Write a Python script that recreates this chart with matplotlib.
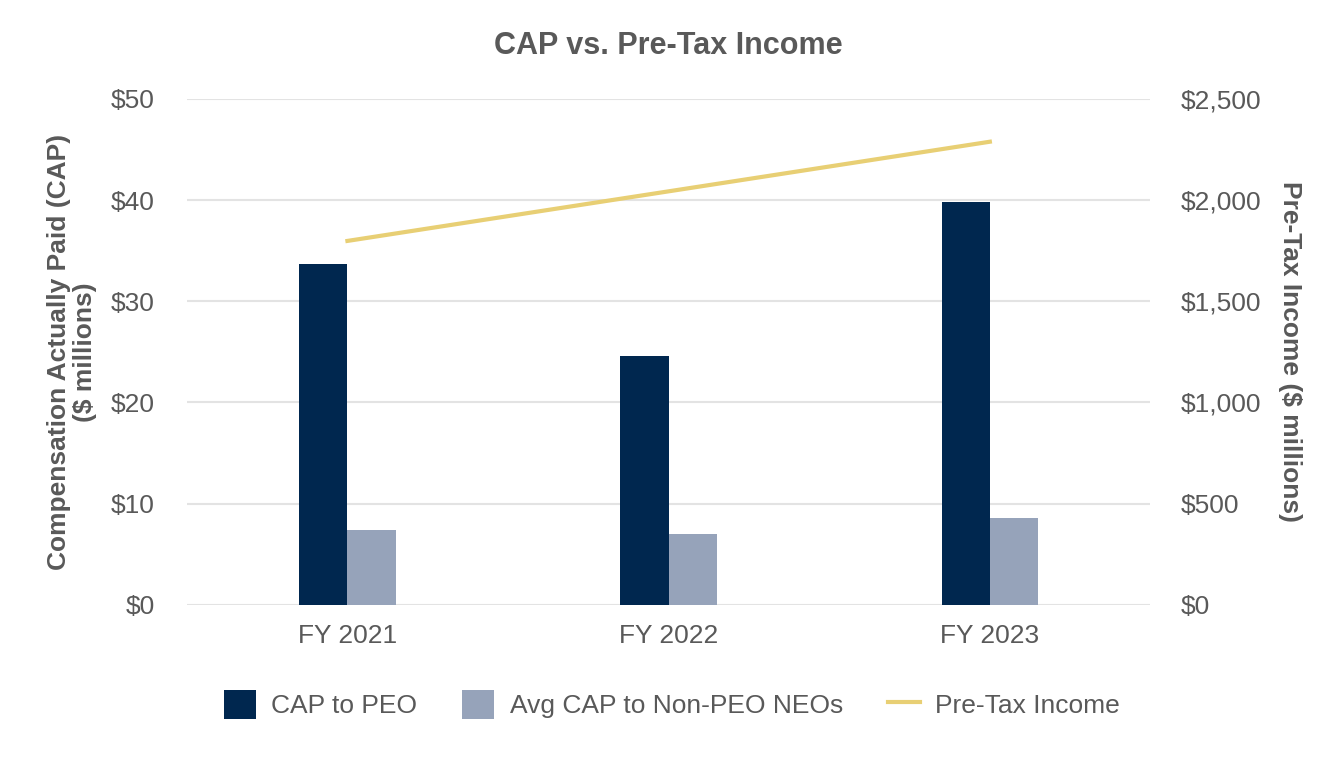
import numpy as np
import matplotlib.pyplot as plt
from matplotlib.ticker import FuncFormatter

years = ["FY 2021", "FY 2022", "FY 2023"]
cap_peo = [33.7, 24.6, 39.8]
cap_non_peo = [7.4, 7.0, 8.6]
pretax_income = [1798, 2043, 2288]

navy = "#00274F"
slate = "#96A3BA"
gold = "#E8CF74"
grey = "#595959"

plt.rcParams["font.family"] = ["Liberation Sans", "DejaVu Sans"]

fig = plt.figure(figsize=(13.44, 7.6), dpi=100)
ax = fig.add_axes([0.139, 0.204, 0.717, 0.666])
x = np.arange(len(years))
w = 0.15

ax.bar(x - w / 2, cap_peo, w, color=navy, label="CAP to PEO", zorder=3)
ax.bar(x + w / 2, cap_non_peo, w, color=slate, label="Avg CAP to Non-PEO NEOs", zorder=3)
ax.set_ylim(0, 50)
ax.set_xlim(-0.5, 2.5)
ax.set_yticks(range(0, 51, 10))
ax.yaxis.set_major_formatter(FuncFormatter(lambda v, p: f"${v:,.0f}"))
ax.set_xticks(x)
ax.set_xticklabels(years)
ax.grid(axis="y", color="#E3E3E3", linewidth=1.5, zorder=0)
for s in ax.spines.values():
    s.set_visible(False)
ax.tick_params(length=0, labelsize=19, colors=grey)
ax.tick_params(axis="y", pad=23)
ax.tick_params(axis="x", pad=14)
ax.set_ylabel("Compensation Actually Paid (CAP)\n($ millions)", fontsize=19,
              fontweight="bold", color=grey, labelpad=10, linespacing=1.1)

ax2 = ax.twinx()
ax2.plot(x, pretax_income, color=gold, linewidth=3, label="Pre-Tax Income", zorder=4)
ax2.set_ylim(0, 2500)
ax2.set_yticks(range(0, 2501, 500))
ax2.yaxis.set_major_formatter(FuncFormatter(lambda v, p: f"${v:,.0f}"))
for s in ax2.spines.values():
    s.set_visible(False)
ax2.tick_params(length=0, labelsize=19, colors=grey, pad=22)
ax2.set_ylabel("Pre-Tax Income ($ millions)", fontsize=19, fontweight="bold",
               color=grey, rotation=270, labelpad=29)

ax.set_title("CAP vs. Pre-Tax Income", fontsize=22, fontweight="bold", color=grey, pad=32)

h1, l1 = ax.get_legend_handles_labels()
h2, l2 = ax2.get_legend_handles_labels()
leg = fig.legend(h1 + h2, l1 + l2, loc="center", bbox_to_anchor=(0.5, 0.073), ncol=3,
                 frameon=False, fontsize=19, handlelength=1.2, handleheight=1.3,
                 columnspacing=1.7, handletextpad=0.6)
for t in leg.get_texts():
    t.set_color(grey)

fig.savefig("out.png", dpi=100)
